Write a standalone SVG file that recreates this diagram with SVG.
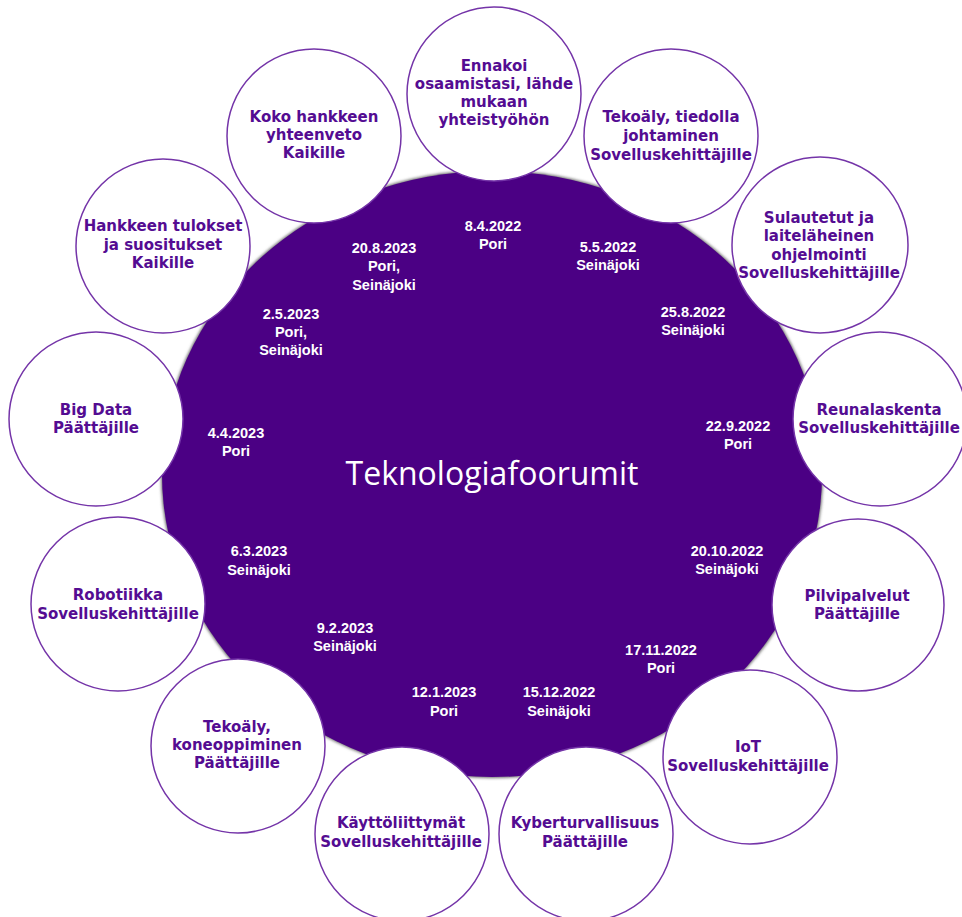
<svg xmlns="http://www.w3.org/2000/svg" width="962" height="917" viewBox="0 0 962 917">
<defs>
<filter id="sh" x="-10%" y="-10%" width="120%" height="120%"><feGaussianBlur stdDeviation="1.6"/></filter>
<style>
.node{fill:#ffffff;stroke:#7434a8;stroke-width:1.5}
.lbl{font-family:"DejaVu Sans",Verdana,sans-serif;font-weight:bold;font-size:15px;fill:#540c92;text-anchor:middle}
.date{font-family:"Liberation Sans",Arial,sans-serif;font-weight:bold;font-size:14.5px;fill:#ffffff;text-anchor:middle}
.title{font-family:"Open Sans","Noto Sans",sans-serif;font-size:32px;fill:#ffffff;text-anchor:middle}
</style>
</defs>
<rect width="962" height="917" fill="#ffffff"/>
<g id="center">
<ellipse cx="492" cy="474" rx="331" ry="304" fill="#6a6a6a" filter="url(#sh)"/>
<ellipse cx="492" cy="474" rx="330" ry="303" fill="#4b0084"/>
<text class="title" x="492" y="485">Teknologiafoorumit</text>
<text class="date" x="493" y="231">8.4.2022<tspan x="493" dy="18">Pori</tspan></text>
<text class="date" x="608" y="252">5.5.2022<tspan x="608" dy="18">Seinäjoki</tspan></text>
<text class="date" x="693" y="317">25.8.2022<tspan x="693" dy="18">Seinäjoki</tspan></text>
<text class="date" x="738" y="431">22.9.2022<tspan x="738" dy="18">Pori</tspan></text>
<text class="date" x="727" y="556">20.10.2022<tspan x="727" dy="18">Seinäjoki</tspan></text>
<text class="date" x="661" y="655">17.11.2022<tspan x="661" dy="18">Pori</tspan></text>
<text class="date" x="559" y="697">15.12.2022<tspan x="559" dy="19">Seinäjoki</tspan></text>
<text class="date" x="444" y="697">12.1.2023<tspan x="444" dy="19">Pori</tspan></text>
<text class="date" x="345" y="633">9.2.2023<tspan x="345" dy="18">Seinäjoki</tspan></text>
<text class="date" x="259" y="556">6.3.2023<tspan x="259" dy="19">Seinäjoki</tspan></text>
<text class="date" x="236" y="438">4.4.2023<tspan x="236" dy="18">Pori</tspan></text>
<text class="date" x="291" y="319">2.5.2023<tspan x="291" dy="18">Pori,</tspan><tspan x="291" dy="18">Seinäjoki</tspan></text>
<text class="date" x="384" y="253">20.8.2023<tspan x="384" dy="18">Pori,</tspan><tspan x="384" dy="19">Seinäjoki</tspan></text>
</g>
<g id="connectors"/>
<g id="n-ennakoi">
<circle class="node" cx="494" cy="94" r="87"/>
<text class="lbl" x="494" y="71">Ennakoi<tspan x="494" dy="18">osaamistasi, lähde</tspan><tspan x="494" dy="18">mukaan</tspan><tspan x="494" dy="18">yhteistyöhön</tspan></text>
</g>
<g id="n-tekoaly-tieto">
<circle class="node" cx="671" cy="136" r="87"/>
<text class="lbl" x="671" y="122">Tekoäly, tiedolla<tspan x="671" dy="19">johtaminen</tspan><tspan x="671" dy="19">Sovelluskehittäjille</tspan></text>
</g>
<g id="n-sulautetut">
<circle class="node" cx="820" cy="245" r="88"/>
<text class="lbl" x="819" y="223">Sulautetut ja<tspan x="819" dy="18">laiteläheinen</tspan><tspan x="819" dy="19">ohjelmointi</tspan><tspan x="819" dy="18">Sovelluskehittäjille</tspan></text>
</g>
<g id="n-reunalaskenta">
<circle class="node" cx="880" cy="419" r="87"/>
<text class="lbl" x="879" y="415">Reunalaskenta<tspan x="879" dy="18">Sovelluskehittäjille</tspan></text>
</g>
<g id="n-pilvipalvelut">
<circle class="node" cx="858" cy="605" r="86"/>
<text class="lbl" x="857" y="601">Pilvipalvelut<tspan x="857" dy="18">Päättäjille</tspan></text>
</g>
<g id="n-iot">
<circle class="node" cx="750" cy="757" r="87"/>
<text class="lbl" x="748" y="752">IoT<tspan x="748" dy="19">Sovelluskehittäjille</tspan></text>
</g>
<g id="n-kyber">
<circle class="node" cx="586" cy="834" r="87"/>
<text class="lbl" x="585" y="828">Kyberturvallisuus<tspan x="585" dy="19">Päättäjille</tspan></text>
</g>
<g id="n-kayttoliittymat">
<circle class="node" cx="402" cy="834" r="87"/>
<text class="lbl" x="401" y="828">Käyttöliittymät<tspan x="401" dy="19">Sovelluskehittäjille</tspan></text>
</g>
<g id="n-tekoaly-kone">
<circle class="node" cx="238" cy="746" r="87"/>
<text class="lbl" x="237" y="732">Tekoäly,<tspan x="237" dy="18">koneoppiminen</tspan><tspan x="237" dy="18">Päättäjille</tspan></text>
</g>
<g id="n-robotiikka">
<circle class="node" cx="118" cy="604" r="87"/>
<text class="lbl" x="118" y="600">Robotiikka<tspan x="118" dy="19">Sovelluskehittäjille</tspan></text>
</g>
<g id="n-bigdata">
<circle class="node" cx="96" cy="419" r="87"/>
<text class="lbl" x="96" y="415">Big Data<tspan x="96" dy="18">Päättäjille</tspan></text>
</g>
<g id="n-tulokset">
<circle class="node" cx="163" cy="246" r="87"/>
<text class="lbl" x="163" y="231">Hankkeen tulokset<tspan x="163" dy="19">ja suositukset</tspan><tspan x="163" dy="18">Kaikille</tspan></text>
</g>
<g id="n-yhteenveto">
<circle class="node" cx="314" cy="136" r="87"/>
<text class="lbl" x="314" y="122">Koko hankkeen<tspan x="314" dy="18">yhteenveto</tspan><tspan x="314" dy="18">Kaikille</tspan></text>
</g>
</svg>
